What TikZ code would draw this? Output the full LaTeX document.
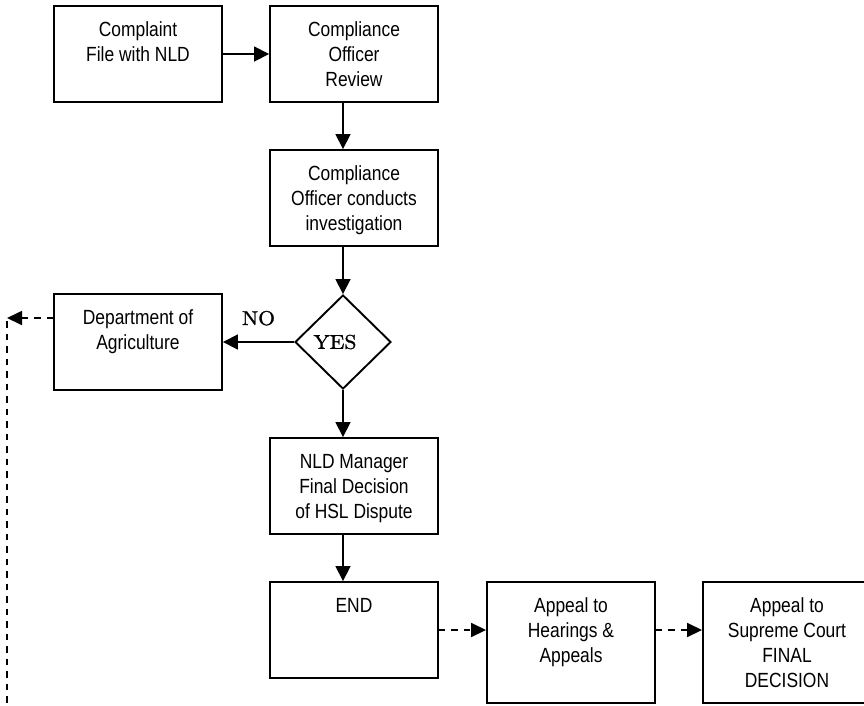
\documentclass[tikz,border=0pt]{standalone}
\usepackage{fontspec}
\usepackage{graphicx}
\newfontfamily\narrowsf[FakeStretch=0.85]{Liberation Sans}
\newfontfamily\yesfont[FakeBold=1.2, FakeStretch=1.08]{lmroman10-regular.otf}
\usetikzlibrary{shapes.geometric,arrows.meta}
\begin{document}
\begin{tikzpicture}[x=1pt,y=-1pt,
  box/.style={draw, line width=1.9pt, minimum width=168pt, minimum height=96pt, inner sep=0pt},
  tallbox/.style={box, minimum height=121pt},
  txt/.style={anchor=north, inner sep=0pt, align=center, font=\narrowsf\fontsize{20.5}{25}\selectfont, yshift=-16.5pt},
  arr/.style={line width=1.7pt, -{Triangle[length=15pt,width=15pt]}},
  darr/.style={line width=1.7pt, dash pattern=on 6.5pt off 6pt, -{Triangle[length=15pt,width=14pt]}},
  dline/.style={line width=1.7pt, dash pattern=on 6.5pt off 6pt},
  serif/.style={font=\yesfont\fontsize{20}{24}\selectfont}
]
\useasboundingbox (0,0) rectangle (864,705);
\clip (0,0) rectangle (864,705);

\node[box, label={[txt]north:{\rule{0pt}{15pt}Complaint\\File with NLD}}] (comp) at (138,54) {};
\node[box, label={[txt]north:{\rule{0pt}{15pt}Compliance\\Officer\\Review}}] (rev) at (354,54) {};
\node[box, label={[txt]north:{\rule{0pt}{15pt}Compliance\\Officer conducts\\investigation}}] (inv) at (354,198) {};
\node[draw, diamond, line width=1.9pt, minimum width=96pt, minimum height=94pt, inner sep=0pt,
      label={[serif, xshift=-8pt]center:{YES}}] (dia) at (343,342) {};
\node[box, label={[txt]north:{\rule{0pt}{15pt}Department of\\Agriculture}}] (dep) at (138,342) {};
\node[box, label={[txt]north:{\rule{0pt}{15pt}NLD Manager\\Final Decision\\of HSL Dispute}}] (nld) at (354,486) {};
\node[box, label={[txt]north:{\rule{0pt}{15pt}END}}] (end) at (354,630) {};
\node[tallbox, label={[txt]north:{\rule{0pt}{15pt}Appeal to\\Hearings \&\\Appeals}}] (hear) at (571,642.5) {};
\node[tallbox, label={[txt]north:{\rule{0pt}{15pt}Appeal to\\Supreme Court\\FINAL\\DECISION}}] (sup) at (787,642.5) {};

\coordinate (dtip) at (7,318);
\coordinate (dbot) at (7,712);

\draw[arr] (comp.east) -- (rev.west);
\draw[arr] (rev.south -| dia.center) -- (inv.north -| dia.center);
\draw[arr] (inv.south -| dia.center) -- (dia.north);
\draw[arr] (dia.west) -- node[serif, anchor=base, yshift=17pt, inner sep=0pt]{NO} (dep.east);
\draw[arr] (dia.south) -- (nld.north -| dia.center);
\draw[arr] (nld.south -| dia.center) -- (end.north -| dia.center);
\draw[darr] (dep.west |- dtip) -- (dtip);
\draw[dline] ([yshift=-3pt]dtip) -- (dbot);
\draw[darr] (end.east) -- (end.east -| hear.west);
\draw[darr] (end.east -| hear.east) -- (end.east -| sup.west);
\end{tikzpicture}
\end{document}
